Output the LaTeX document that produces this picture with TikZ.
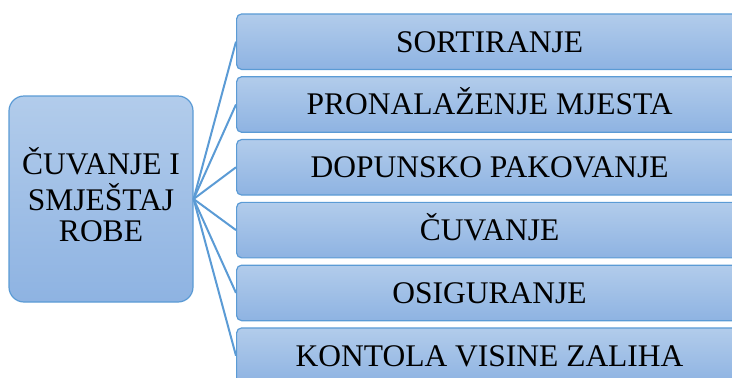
\documentclass[tikz,border=0pt]{standalone}
\usepackage{fontspec}
\setmainfont{Liberation Serif}
\definecolor{boxtop}{RGB}{178,204,235}
\definecolor{boxbot}{RGB}{142,179,226}
\definecolor{edgeblue}{RGB}{91,155,213}
\begin{document}
\begin{tikzpicture}[x=1pt,y=-1pt,
  txt/.style={font=\fontsize{31.5}{32}\selectfont, text=black},
  mainbox/.style={draw=edgeblue, line width=1.2pt, rounded corners=15pt, top color=boxtop, bottom color=boxbot,
    minimum width=184pt, minimum height=206pt, inner sep=0pt, align=center, txt},
  itembox/.style={draw=edgeblue, line width=1.2pt, rounded corners=5pt, top color=boxtop, bottom color=boxbot,
    minimum width=506pt, minimum height=55.5pt, inner sep=0pt, txt, text height=20.9pt, text depth=0pt, anchor=west},
  link/.style={draw=edgeblue, line width=2pt}]
\useasboundingbox (0,0) rectangle (732,378);
\clip (0,0) rectangle (732,378);
\node[mainbox] (m) at (101,199) {\raisebox{-3pt}{\begin{tabular}{@{}c@{}}ČUVANJE I\\[-1pt]SMJEŠTAJ\\[-1pt]ROBE\end{tabular}}};
\node[itembox] (r1) at (236,41.7) {SORTIRANJE};
\node[itembox] (r2) at (236,104.5) {PRONALAŽENJE MJESTA};
\node[itembox] (r3) at (236,167.3) {DOPUNSKO PAKOVANJE};
\node[itembox] (r4) at (236,230.1) {ČUVANJE};
\node[itembox] (r5) at (236,292.9) {OSIGURANJE};
\node[itembox] (r6) at (236,355.7) {KONTOLA VISINE ZALIHA};
\foreach \i in {1,...,6} {\draw[link] (m.east) -- (r\i.west);}
\end{tikzpicture}
\end{document}
